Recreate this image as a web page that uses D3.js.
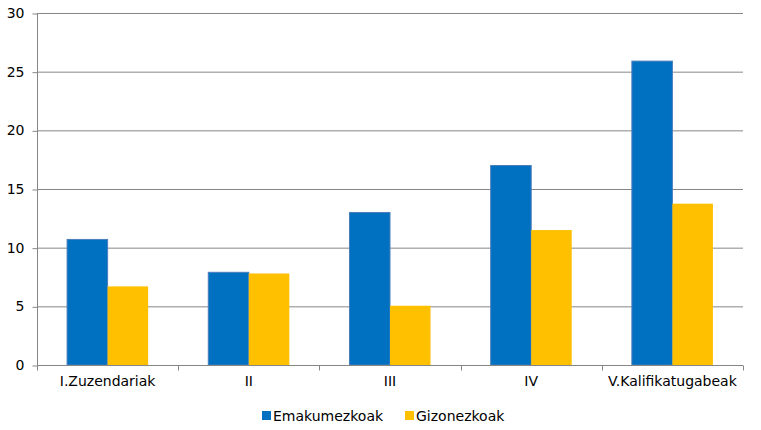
<!DOCTYPE html>
<html><head><meta charset="utf-8">
<script src="https://cdn.jsdelivr.net/npm/d3@7"></script>
<style>
body{margin:0;background:#fff;}
text{font-family:"DejaVu Sans",Verdana,sans-serif;}
</style></head>
<body><svg id="c" width="761" height="430"></svg>
<script>
const categories = ["I.Zuzendariak","II","III","IV","V.Kalifikatugabeak"];
const seriesNames = ["Emakumezkoak","Gizonezkoak"];
const emakumezkoak = [10.7, 7.9, 13.0, 17.0, 25.9];
const gizonezkoak = [6.7, 7.8, 5.05, 11.5, 13.75];
const yTicks = [0,5,10,15,20,25,30];
const colors = ["#0070C0","#FFC000"];

const svg = d3.select("#c");
const L=37, R=743, T=13, B=365;
const FS = "14px";
const x = d3.scaleBand().domain(categories).range([L,R]).paddingInner(0.426).paddingOuter(0.213);
const x1 = d3.scaleBand().domain(seriesNames).range([0,x.bandwidth()]);
const y = d3.scaleLinear().domain([0,30]).range([B,T]);

// gridlines
svg.append("g").selectAll("line").data(yTicks.filter(d=>d>0)).join("line")
  .attr("x1",L).attr("x2",R).attr("y1",d=>y(d)+0.5).attr("y2",d=>y(d)+0.5)
  .attr("stroke","#868686").attr("stroke-width",1);

// y axis
const ya = svg.append("g").attr("transform",`translate(${L+0.5},0)`)
  .call(d3.axisLeft(y).tickValues(yTicks).tickSize(5).tickPadding(8));
ya.select(".domain").attr("stroke","#868686").attr("d",`M0,${T}V${B}`);
ya.selectAll(".tick line").attr("stroke","#868686").attr("transform","translate(0,0.5)");
ya.selectAll(".tick text").attr("font-size",FS).attr("fill","#000").attr("font-family","DejaVu Sans, Verdana, sans-serif");

// bars
const data = categories.map((c,i)=>({c, vals:[emakumezkoak[i], gizonezkoak[i]]}));
const g = svg.append("g");
data.forEach(d=>{
  d.vals.forEach((v,j)=>{
    g.append("rect")
      .attr("x", x(d.c)+x1(seriesNames[j]))
      .attr("y", y(v))
      .attr("width", x1.bandwidth())
      .attr("height", y(0)-y(v))
      .attr("fill", colors[j])
      .attr("stroke", j===0 ? "#4A7EBB" : "none")
      .attr("stroke-width", j===0 ? 1 : 0);
  });
});

// x axis
const xa = svg.append("g").attr("transform",`translate(0,${B+0.5})`)
  .call(d3.axisBottom(x).tickSize(0).tickPadding(11));
xa.select(".domain").attr("stroke","#868686").attr("d",`M${L},0H${R}`);
xa.selectAll(".tick text").attr("font-size",FS).attr("fill","#000").attr("font-family","DejaVu Sans, Verdana, sans-serif");
const bounds = d3.range(categories.length+1).map(i=>L + i*(R-L)/categories.length);
xa.append("g").selectAll("line").data(bounds).join("line")
  .attr("x1",d=>Math.round(d)+0.5).attr("x2",d=>Math.round(d)+0.5).attr("y1",0).attr("y2",5)
  .attr("stroke","#868686");

// legend
const leg = svg.append("g");
const legX = [262, 405];
seriesNames.forEach((s,i)=>{
  leg.append("rect").attr("x",legX[i]).attr("y",411).attr("width",9).attr("height",9).attr("fill",colors[i]);
  leg.append("text").attr("x",legX[i]+11).attr("y",421).attr("font-size",FS).attr("fill","#000").text(s);
});
</script></body></html>
